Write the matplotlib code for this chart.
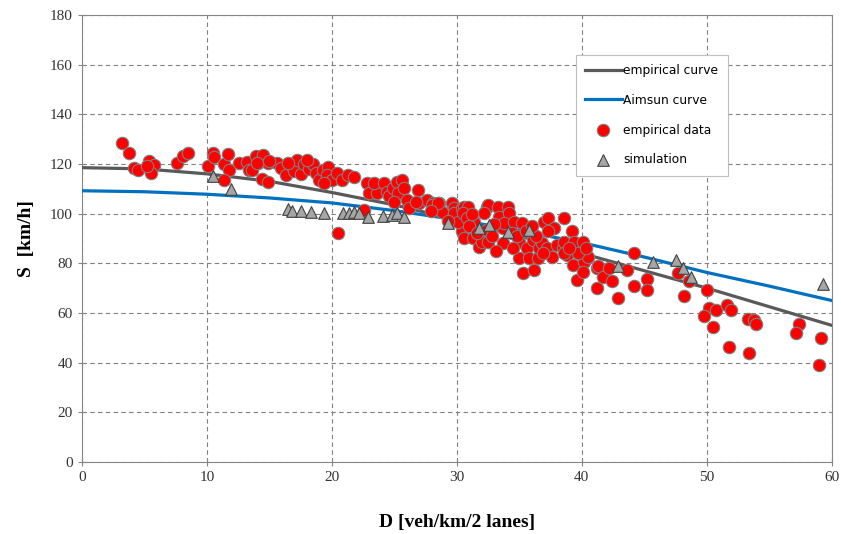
import matplotlib
matplotlib.use("Agg")
import matplotlib.pyplot as plt

# curves every 5 veh/km
curve_d = [0, 5, 10, 15, 20, 25, 30, 35, 40, 45, 50, 55, 60]
emp_curve = [118.5, 118, 116, 113, 108.5, 103.5, 97.5, 91, 84, 77, 70, 62.5, 55]
aimsun_curve = [109.2, 108.8, 107.8, 106.3, 104.3, 101.2, 97.5, 93.2, 88.3, 82.5, 76.3, 70.8, 65]

# empirical data (red dots)
emp_d = [3.2, 3.8, 4.2, 4.5, 5.4, 5.8, 5.5, 5.2, 7.6, 8.1, 8.5, 10.1, 10.5, 10.6, 11.4, 11.7,
         11.8, 11.4, 12.6, 13.2, 13.4, 13.9, 14.1, 14.5, 14.4, 14.9, 14.9, 15.6, 13.6, 14.0,
         15.0, 15.9, 16.3, 16.7, 17.0, 17.2, 17.5, 17.8, 18.2, 18.5, 18.7, 19.0, 19.3, 19.7,
         19.6, 20.0, 20.4, 20.8, 21.3, 21.8, 19.4, 16.5, 18.0, 22.8, 23.0, 23.6, 23.4, 24.2,
         24.4, 24.6, 24.9, 25.2, 25.6, 25.3, 25.8, 26.0, 26.2, 26.9, 27.0, 27.6, 28.1, 28.6,
         28.8, 29.6, 29.8, 30.0, 30.4, 30.4, 30.6, 22.6, 20.5, 28.0, 28.5, 29.8, 30.1, 30.4,
         30.6, 30.9, 30.5, 30.8, 31.3, 31.4, 31.8, 32.0, 32.4, 32.5, 32.2, 32.4, 32.5, 33.3,
         33.4, 33.7, 34.1, 34.2, 33.8, 33.7, 34.6, 34.4, 35.0, 35.2, 35.0, 35.3, 36.2, 35.6,
         35.8, 36.1, 36.5, 36.6, 36.8, 37.0, 37.3, 37.8, 37.3, 37.2, 37.6, 38.0, 38.6, 38.5,
         38.6, 38.8, 39.2, 39.3, 39.6, 39.4, 39.8, 40.1, 40.2, 40.5, 41.2, 41.2, 38.6, 39.7,
         40.1, 41.3, 41.7, 42.2, 42.4, 42.9, 43.6, 44.2, 44.2, 45.2, 45.2, 47.7, 48.6, 48.2,
         50.0, 50.2, 50.7, 49.8, 50.5, 51.6, 51.9, 51.8, 53.3, 53.8, 53.9, 53.4, 57.4, 57.1,
         59.1, 59.0, 31.0, 31.6, 32.8, 33.0, 34.8, 35.5, 36.3, 36.0, 33.1, 34.5, 36.9, 39.0,
         40.3, 31.2, 29.3, 27.9, 26.7, 25.0]
emp_s = [128.6, 124.6, 118.3, 117.6, 121, 119.6, 116.3, 119, 120.3, 123.2, 124.6, 119.2, 124.6,
         122.7, 120, 124, 117.6, 113.6, 120.3, 120.7, 117.6, 123.2, 120.3, 123.5, 113.9, 120.5,
         112.9, 120.3, 117.6, 120.3, 121.0, 118.3, 115.5, 119.5, 117, 121.5, 116, 119.8, 118,
         120, 116.5, 113.5, 117.5, 118.8, 115.6, 113.6, 116.4, 113.6, 115.6, 114.8, 112.4, 120.5,
         121.5, 112.5, 108.2, 108.2, 112.4, 112.2, 108.9, 106.9, 110.4, 112.9, 113.6, 108.3,
         110.4, 105.5, 102.2, 109.5, 104.2, 105.5, 104.3, 104.3, 100.8, 104.2, 102.2, 99.5,
         98.1, 92.8, 90.0, 101.5, 92.1, 103.5, 104.2, 100.2, 96.8, 102.2, 102.8, 102.8, 100.2,
         98.1, 90.1, 96.8, 86.7, 88.7, 102.8, 103.5, 100.2, 93.4, 88.7, 102.8, 98.8, 94.1,
         102.8, 100.2, 96.1, 88.1, 96.8, 92.1, 88.7, 96.1, 82.0, 76.0, 77.3, 86.0, 82.0, 89.4,
         82.0, 86.0, 88.1, 96.8, 98.1, 94.1, 92.8, 86.0, 82.7, 87.4, 98.1, 86.0, 88.7, 83.4,
         92.8, 79.3, 73.3, 88.7, 84.0, 88.7, 80.7, 82.7, 78.0, 70.0, 84.0, 84.0, 76.6, 78.7,
         74.4, 78.0, 73.0, 65.9, 77.3, 84.3, 70.9, 73.6, 69.3, 76.0, 73.0, 66.9, 69.3, 61.9,
         61.0, 58.8, 54.2, 63.2, 61.2, 46.2, 57.5, 57.2, 55.6, 44.0, 55.6, 52.1, 50.1, 39.1,
         95, 92, 91, 96, 91, 93, 91, 95, 85, 86, 84, 86, 86, 100, 97, 101, 104.5, 104.8]

# simulation (grey triangles)
sim_d = [10.5, 11.9, 16.5, 16.8, 17.5, 18.3, 19.4, 20.9, 21.4, 21.8, 22.2, 22.9, 24.1, 24.8,
         25.2, 25.8, 29.3, 31.8, 32.6, 34.1, 35.8, 42.9, 45.7, 47.5, 48.1, 48.7, 59.3]
sim_s = [115.2, 110, 102, 101.2, 101.2, 100.7, 100.4, 100.2, 100.2, 100.8, 100.2, 98.8, 99.1,
         99.5, 100.2, 98.6, 96.1, 94.2, 95.4, 92.6, 93.4, 79, 80.7, 81.4, 78.1, 74.5, 71.6]

fig = plt.figure(figsize=(8.41, 5.34), dpi=100)
ax = fig.add_axes([0.0975, 0.135, 0.8915, 0.837])

ax.plot(curve_d, emp_curve, color="#595959", lw=2.3, label="empirical curve", zorder=3)
ax.plot(curve_d, aimsun_curve, color="#0070C0", lw=2.3, label="Aimsun curve", zorder=3)
ax.scatter(emp_d, emp_s, s=80, color="#ff0000", edgecolors="#7f7f7f", linewidths=0.8,
           label="empirical data", zorder=4)
ax.scatter(sim_d, sim_s, s=70, marker="^", color="#a6a6a6", edgecolors="#404040",
           linewidths=0.8, label="simulation", zorder=5)

ax.set_xlim(0, 60)
ax.set_ylim(0, 180)
ax.set_xticks(range(0, 61, 10))
ax.set_yticks(range(0, 181, 20))
ax.grid(True, color="#808080", linestyle=(0, (4, 3)), lw=0.8)
ax.set_axisbelow(True)
for sp in ax.spines.values():
    sp.set_color("#868686")
ax.tick_params(direction="inout", length=6, color="#868686", labelsize=11, labelcolor="#333333")
for lab in ax.get_xticklabels() + ax.get_yticklabels():
    lab.set_family("Liberation Serif")

ax.set_xlabel("D [veh/km/2 lanes]", family="Liberation Serif", fontweight="bold",
              fontsize=14, labelpad=22)
ax.set_ylabel("S  [km/h]", family="Liberation Serif", fontweight="bold", fontsize=14,
              labelpad=11)

leg = ax.legend(loc="upper right", bbox_to_anchor=(0.861, 0.911), fancybox=False,
                edgecolor="#bfbfbf", fontsize=8.8, labelspacing=1.38, handlelength=3.0,
                handletextpad=0.15, borderpad=0.75, borderaxespad=0, framealpha=1)
leg.get_frame().set_linewidth(0.8)

plt.savefig("out.png", dpi=100)
